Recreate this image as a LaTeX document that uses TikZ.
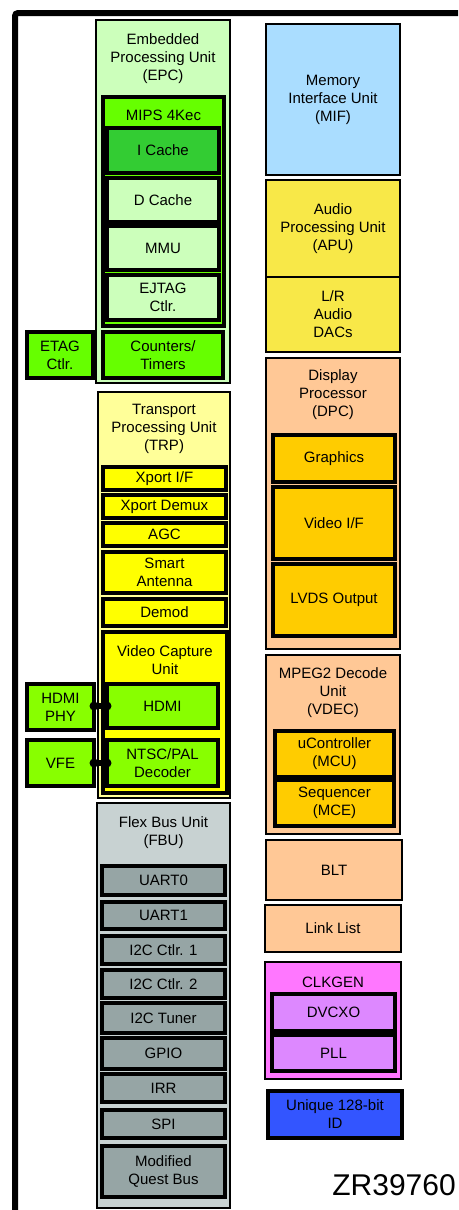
\documentclass[tikz,border=0pt]{standalone}
\usepackage{fontspec}
\setmainfont{Liberation Sans}
\definecolor{epcbg}{HTML}{CCFFBB}
\definecolor{mipsg}{HTML}{66FF00}
\definecolor{icg}{HTML}{33CC33}
\definecolor{limeg}{HTML}{88FF00}
\definecolor{trpbg}{HTML}{FFFF99}
\definecolor{yel}{HTML}{FFFF00}
\definecolor{fbubg}{HTML}{C8D2D2}
\definecolor{fbuin}{HTML}{96A5A5}
\definecolor{mifbg}{HTML}{AADDFF}
\definecolor{apubg}{HTML}{F8E848}
\definecolor{peach}{HTML}{FFC896}
\definecolor{gold}{HTML}{FFCC00}
\definecolor{clkbg}{HTML}{FF77FF}
\definecolor{violet}{HTML}{DD88FF}
\definecolor{idblue}{HTML}{3355FF}
\tikzset{
  base/.style={inner sep=0pt, outer sep=0pt, align=center, font=\fontsize{15}{18}\selectfont},
  outerbox/.style={base, draw=black, line width=2.8pt},
  innerbox/.style={base, draw=black, line width=3.3pt},
  title/.style={base},
  conn/.style={line width=6pt},
  dot/.style={circle, fill=black, inner sep=0pt, minimum size=9pt},
}
\begin{document}
\begin{tikzpicture}[x=1pt,y=-1pt]
\useasboundingbox (0,0) rectangle (458,1210);
% frame
\draw[line width=6pt, rounded corners=3pt] (458,13) -- (15,13) -- (15,1212);

% ---- EPC ----
\node[outerbox, fill=epcbg, minimum width=134pt, minimum height=363pt] (epc) at (163,201.5) {};
\node[title] (epct) at (163,59) {Embedded\\Processing Unit\\(EPC)};
\node[innerbox, fill=mipsg, minimum width=121pt, minimum height=229pt] (mips) at (163.5,211.5) {};
\node[title] (mipst) at (163.5,115) {MIPS 4Kec};
\node[innerbox, fill=icg, minimum width=112pt, minimum height=45pt] (icache) at (163,150.5) {I Cache};
\node[innerbox, fill=epcbg, minimum width=112pt, minimum height=44pt] (dcache) at (163,200) {D Cache};
\node[innerbox, fill=epcbg, minimum width=112pt, minimum height=44pt] (mmu) at (163,248) {MMU};
\node[innerbox, fill=epcbg, minimum width=112pt, minimum height=45pt] (ejtag) at (163,297.5) {EJTAG\\Ctlr.};
\node[innerbox, fill=mipsg, minimum width=120pt, minimum height=46pt] (ctr) at (163,355) {Counters/\\Timers};
\node[innerbox, fill=mipsg, minimum width=66pt, minimum height=46pt] (etag) at (60,355) {ETAG\\Ctlr.};

% ---- TRP ----
\node[outerbox, fill=trpbg, minimum width=132pt, minimum height=406pt] (trp) at (164,595) {};
\node[title] (trpt) at (164,429) {Transport\\Processing Unit\\(TRP)};
\node[innerbox, fill=yel, minimum width=123pt, minimum height=23pt] (xif) at (164.5,478.5) {Xport I/F};
\node[innerbox, fill=yel, minimum width=123pt, minimum height=23pt] (xdmx) at (164.5,506.5) {Xport Demux};
\node[innerbox, fill=yel, minimum width=123pt, minimum height=23pt] (agc) at (164.5,534.5) {AGC};
\node[innerbox, fill=yel, minimum width=123pt, minimum height=41pt] (smart) at (164.5,572.5) {Smart\\Antenna};
\node[innerbox, fill=yel, minimum width=123pt, minimum height=27pt] (demod) at (164.5,612.5) {Demod};
\node[innerbox, fill=yel, minimum width=124pt, minimum height=161pt] (vcu) at (165,712.5) {};
\node[title] (vcut) at (165,660.5) {Video Capture\\Unit};
\node[innerbox, fill=limeg, minimum width=111pt, minimum height=44pt] (hdmi) at (162.5,706) {HDMI};
\node[innerbox, fill=limeg, minimum width=111pt, minimum height=46pt] (ntsc) at (162.5,763) {NTSC/PAL\\Decoder};
\node[innerbox, fill=limeg, minimum width=67pt, minimum height=46pt] (phy) at (60.5,707) {HDMI\\PHY};
\node[innerbox, fill=limeg, minimum width=67pt, minimum height=46pt] (vfe) at (60.5,763) {VFE};
\draw[conn] (hdmi.west -| phy.east) -- (hdmi.west);
\node[dot] (d1) at (hdmi.west -| phy.east) {};
\node[dot] (d2) at (hdmi.west) {};
\draw[conn] (vfe.east) -- (ntsc.west);
\node[dot] (d3) at (vfe.east) {};
\node[dot] (d4) at (ntsc.west) {};

% ---- FBU ----
\node[outerbox, fill=fbubg, minimum width=133pt, minimum height=405pt] (fbu) at (163.5,1005.5) {};
\node[title] (fbut) at (163.5,833) {Flex Bus Unit\\(FBU)};
\node[innerbox, fill=fbuin, minimum width=123pt, minimum height=29pt] (uart0) at (163.5,880.5) {UART0};
\node[innerbox, fill=fbuin, minimum width=123pt, minimum height=27pt] (uart1) at (163.5,915.5) {UART1};
\node[innerbox, fill=fbuin, minimum width=123pt, minimum height=28pt] (i2c1) at (163.5,950) {I2C Ctlr. 1};
\node[innerbox, fill=fbuin, minimum width=123pt, minimum height=28pt] (i2c2) at (163.5,984) {I2C Ctlr. 2};
\node[innerbox, fill=fbuin, minimum width=123pt, minimum height=30pt] (i2ct) at (163.5,1018) {I2C Tuner};
\node[innerbox, fill=fbuin, minimum width=123pt, minimum height=31pt] (gpio) at (163.5,1053.5) {GPIO};
\node[innerbox, fill=fbuin, minimum width=123pt, minimum height=28pt] (irr) at (163.5,1088) {IRR};
\node[innerbox, fill=fbuin, minimum width=123pt, minimum height=28pt] (spi) at (163.5,1124) {SPI};
\node[innerbox, fill=fbuin, minimum width=123pt, minimum height=51pt] (mqb) at (163.5,1171.5) {Modified\\Quest Bus};

% ---- right column ----
\node[outerbox, fill=mifbg, minimum width=134pt, minimum height=151pt] (mif) at (333,99.5) {Memory\\Interface Unit\\(MIF)};
\node[outerbox, fill=apubg, minimum width=134pt, minimum height=97pt] (apu) at (333,228.5) {Audio\\Processing Unit\\(APU)};
\node[outerbox, fill=apubg, minimum width=134pt, minimum height=75pt] (dacs) at (333,314.5) {L/R\\Audio\\DACs};

\node[outerbox, fill=peach, minimum width=134pt, minimum height=291pt] (dpc) at (333,503.5) {};
\node[title] (dpct) at (333,395) {Display\\Processor\\(DPC)};
\node[innerbox, fill=gold, minimum width=122pt, minimum height=47pt] (gfx) at (334,458.5) {Graphics};
\node[innerbox, fill=gold, minimum width=122pt, minimum height=72pt] (vif) at (334,523) {Video I/F};
\node[innerbox, fill=gold, minimum width=122pt, minimum height=72pt] (lvds) at (334,600) {LVDS Output};

\node[outerbox, fill=peach, minimum width=134pt, minimum height=179pt] (vdec) at (333,744.5) {};
\node[title] (vdect) at (333,693) {MPEG2 Decode\\Unit\\(VDEC)};
\node[innerbox, fill=gold, minimum width=119pt, minimum height=46pt] (mcu) at (334.5,754) {uController\\(MCU)};
\node[innerbox, fill=gold, minimum width=119pt, minimum height=46pt] (mce) at (334.5,803) {Sequencer\\(MCE)};

\node[outerbox, fill=peach, minimum width=136pt, minimum height=60pt] (blt) at (334,870) {BLT};
\node[outerbox, fill=peach, minimum width=136pt, minimum height=47pt] (ll) at (333,928.5) {Link List};

\node[outerbox, fill=clkbg, minimum width=136pt, minimum height=117pt] (clk) at (333,1020.5) {};
\node[title] (clkt) at (333,982) {CLKGEN};
\node[innerbox, fill=violet, minimum width=123pt, minimum height=37pt] (dvcxo) at (333.5,1012.5) {DVCXO};
\node[innerbox, fill=violet, minimum width=123pt, minimum height=36pt] (pll) at (333.5,1053) {PLL};

\node[innerbox, fill=idblue, minimum width=134pt, minimum height=47pt] (uid) at (335,1114.5) {Unique 128-bit\\ID};

\node[anchor=base east, inner sep=0pt, font=\fontsize{30}{36}\selectfont] (chip) at (456,1195) {ZR39760};
\end{tikzpicture}
\end{document}
